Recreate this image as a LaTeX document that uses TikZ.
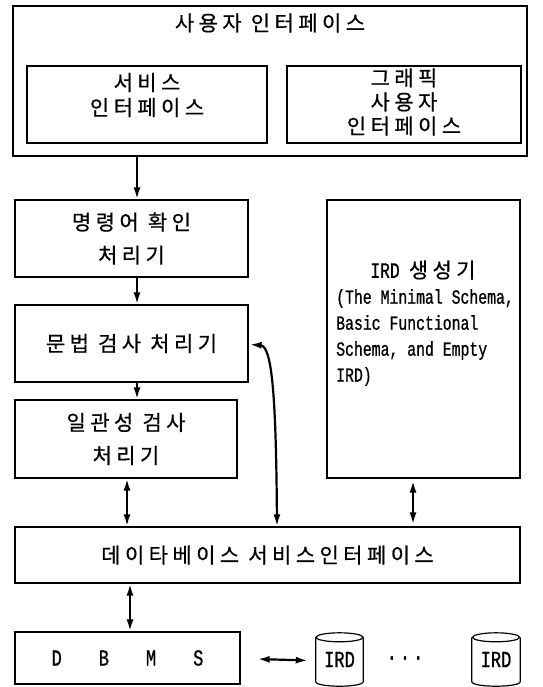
\documentclass[tikz,border=0pt]{standalone}
\usepackage{fontspec}
\setmainfont{Noto Sans CJK KR}
\newfontfamily\kr[LetterSpace=21,FakeBold=0.6]{Noto Sans CJK KR}
\newfontfamily\latm[FakeStretch=0.74,FakeBold=0.8]{Liberation Mono}
\usetikzlibrary{arrows.meta}
\tikzset{
  box/.style={draw, line width=1.2pt, inner sep=0pt, anchor=center},
  kor/.style={font=\kr\fontsize{21}{23}\selectfont, inner sep=0pt, align=center},
  eng/.style={font=\latm\fontsize{20}{26}\selectfont, inner sep=0pt, align=left},
  big/.style={font=\latm\fontsize{23}{26}\selectfont, inner sep=0pt},
  arr/.style={line width=2.2pt, -{Latex[length=12pt,width=7pt]}},
  dbl/.style={line width=2.2pt, {Latex[length=12pt,width=7pt]}-{Latex[length=12pt,width=7pt]}},
  cyl/.style={line width=1.2pt},
}
\begin{document}
\begin{tikzpicture}[x=1pt,y=-1pt]
\useasboundingbox (0,0) rectangle (542,687);
% top block
\node[box, minimum width=514pt, minimum height=150pt] (ui) at (270,81) {};
\node[kor] (uititle) at (270,23) {사용자 인터페이스};
\node[box, minimum width=240pt, minimum height=77pt] (svc) at (147,104.5) {};
\node[kor] (svct) at (147,95) {서비스\\[2pt]인터페이스};
\node[box, minimum width=234pt, minimum height=77pt] (gui) at (404,104.5) {};
\node[kor] (guit) at (404,102) {그래픽\\[1pt]사용자\\[1pt]인터페이스};
% left column
\node[box, kor, minimum width=233pt, minimum height=77pt] (cmd) at (131.5,238.5) {명령어 확인\\[10pt]처리기};
\node[box, kor, minimum width=233pt, minimum height=77pt] (syn) at (131.5,343.5) {문법 검사 처리기};
\node[box, kor, minimum width=222pt, minimum height=78pt] (con) at (126,439) {일관성 검사\\[10pt]처리기};
% IRD generator
\node[box, minimum width=193pt, minimum height=278pt] (irdgen) at (423.5,339) {};
\node[kor] (irdgent) at (423,270) {{\latm\fontsize{22}{22}\selectfont IRD} 생성기};
\node[eng, anchor=west] (irdtxt) at (336,337.5) {(The Minimal Schema,\\Basic Functional\\Schema, and Empty\\IRD)};
% database service interface
\node[box, kor, minimum width=505pt, minimum height=56pt] (dbsi) at (267.5,555) {데이타베이스 서비스인터페이스};
% bottom row
\node[box, minimum width=225pt, minimum height=52pt] (dbms) at (127.5,658) {};
\node[big] (dbmst) at (127.5,658) {D\hspace{37pt}B\hspace{37pt}M\hspace{37pt}S};
\node[big, minimum width=47pt, minimum height=53pt] (ird1) at (339.5,659.5) {IRD};
\node[big, minimum width=48pt, minimum height=53pt] (ird2) at (496,659.5) {IRD};
\node[big] (dots) at (405,658) {.\hspace{3pt}.\hspace{3pt}.};
\foreach \c in {ird1,ird2}{
  \draw[cyl] ([yshift=-4.5pt]\c.north) ellipse [x radius=23.5pt, y radius=4.5pt];
  \draw[cyl] ([yshift=-4.5pt]\c.north west) -- ([yshift=4.5pt]\c.south west)
     .. controls ([yshift=-1.5pt]\c.south west) and ([yshift=-1.5pt]\c.south east) .. ([yshift=4.5pt]\c.south east)
     -- ([yshift=-4.5pt]\c.north east);
}
% connectors
\coordinate (xa) at (137,0);
\coordinate (xb) at (127,0);
\coordinate (xc) at (130,0);
\coordinate (xd) at (413,0);
\coordinate (xe) at (277,0);
\draw[arr] (ui.south -| xa) -- (cmd.north -| xa);
\draw[arr] (cmd.south -| xa) -- (syn.north -| xa);
\draw[arr] (syn.south -| xa) -- (con.north -| xa);
\draw[dbl] (con.south -| xb) -- (dbsi.north -| xb);
\draw[dbl] (dbsi.south -| xc) -- (dbms.north -| xc);
\draw[dbl] ([yshift=-2pt]irdgen.south -| xd) -- ([yshift=2pt]dbsi.north -| xd);
\draw[dbl] ([xshift=1pt,yshift=-1pt]syn.east) .. controls (272,346) and (276,395) .. (dbsi.north -| xe);
\draw[dbl] ([xshift=17pt,yshift=-1pt]dbms.east) -- ([xshift=-8pt,yshift=-1pt]ird1.west);
\end{tikzpicture}
\end{document}
